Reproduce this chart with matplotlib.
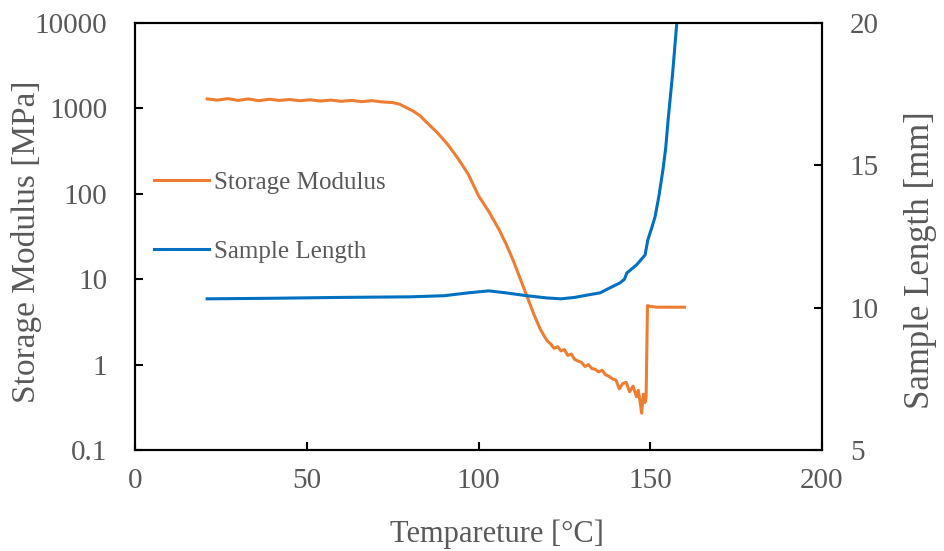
import numpy as np
import matplotlib.pyplot as plt

# storage modulus [MPa] vs temperature
temp_e = [21, 24, 27, 30, 33, 36, 39, 42, 45, 48, 51, 54, 57, 60, 63, 66, 69, 72, 75,
          77, 79, 81, 83, 85, 88, 91, 94, 97, 100, 103, 106, 108, 110, 112, 114, 116,
          117, 118, 119, 120, 121, 122, 123, 124, 125, 126, 127, 128, 129, 130, 131,
          132, 133, 134, 135, 136, 137, 138, 139, 140, 141, 142, 143, 144, 145, 146,
          146.5, 147, 147.5, 148, 148.5, 148.8, 149.2, 150, 152, 155, 158, 160]
modulus = [1290, 1250, 1300, 1240, 1290, 1230, 1280, 1240, 1270, 1230, 1260, 1220, 1250, 1210, 1240, 1200, 1230, 1190, 1170,
           1120, 1020, 930, 820, 680, 520, 380, 260, 170, 95, 62, 38, 26, 17, 10.5, 6.5, 4.0,
           3.2, 2.6, 2.2, 1.9, 1.75, 1.55, 1.62, 1.45, 1.5, 1.28, 1.33, 1.15, 1.1, 1.06, 0.95,
           1.0, 0.9, 0.88, 0.82, 0.86, 0.76, 0.73, 0.68, 0.66, 0.52, 0.6, 0.62, 0.48, 0.56, 0.42,
           0.5, 0.38, 0.27, 0.45, 0.36, 0.42, 4.9, 4.8, 4.7, 4.7, 4.7, 4.7]

# sample length [mm] vs temperature
temp_l = [21, 40, 60, 80, 90, 97, 103, 108, 114, 120, 124, 128, 132, 135.4, 138, 141.2,
          142.5, 143.2, 146, 148.5, 149.3, 150.3, 151.4, 152.5, 153.7, 154.5, 155.2, 156.5, 157.8]
length = [10.31, 10.33, 10.36, 10.38, 10.42, 10.52, 10.59, 10.52, 10.42, 10.34, 10.31, 10.36, 10.45, 10.52, 10.68, 10.87,
          11.0, 11.22, 11.5, 11.85, 12.38, 12.75, 13.19, 13.9, 14.84, 15.6, 16.59, 18.2, 20.1]

plt.rcParams['font.family'] = 'Liberation Serif'
grey = '#595959'

fig = plt.figure(figsize=(9.45, 5.51), dpi=100)
ax = fig.add_axes([0.1429, 0.1833, 0.7269, 0.775])
ax2 = ax.twinx()

l1, = ax.plot(temp_e, modulus, color='#ED7D31', lw=2.2, label='Storage Modulus')
l2, = ax2.plot(temp_l, length, color='#0070C0', lw=2.2, label='Sample Length')

ax.set_yscale('log')
ax.set_xlim(0, 200)
ax.set_ylim(0.1, 10000)
ax2.set_ylim(5, 20)
ax.set_xticks([0, 50, 100, 150, 200])
ax.set_yticks([0.1, 1, 10, 100, 1000, 10000])
ax.set_yticklabels(['0.1', '1', '10', '100', '1000', '10000'])
ax.minorticks_off()
ax2.set_yticks([5, 10, 15, 20])

ax.set_xlabel('Tempareture [°C]', fontsize=22, color=grey, labelpad=18)
ax.set_ylabel('Storage Modulus [MPa]', fontsize=24, color=grey, labelpad=-5)
ax2.set_ylabel('Sample Length [mm]', fontsize=25, color=grey, labelpad=18)
ax.xaxis.label.set_x(0.527)
ax.yaxis.label.set_y(0.487)
ax2.yaxis.label.set_y(0.445)

for a in (ax, ax2):
    a.tick_params(direction='in', length=6, width=1.5, labelsize=21, labelcolor=grey, pad=13)
    for s in a.spines.values():
        s.set_linewidth(1.5)
        s.set_color('black')
ax.tick_params(axis='y', pad=20)
ax2.tick_params(axis='y', pad=20)

ax.legend([l1, l2], ['Storage Modulus', 'Sample Length'], loc='upper left',
          bbox_to_anchor=(-0.005, 0.705), frameon=False, fontsize=18,
          handlelength=2.2, handletextpad=0.2, labelspacing=1.85, labelcolor=grey)

fig.savefig('out.png', dpi=100)
